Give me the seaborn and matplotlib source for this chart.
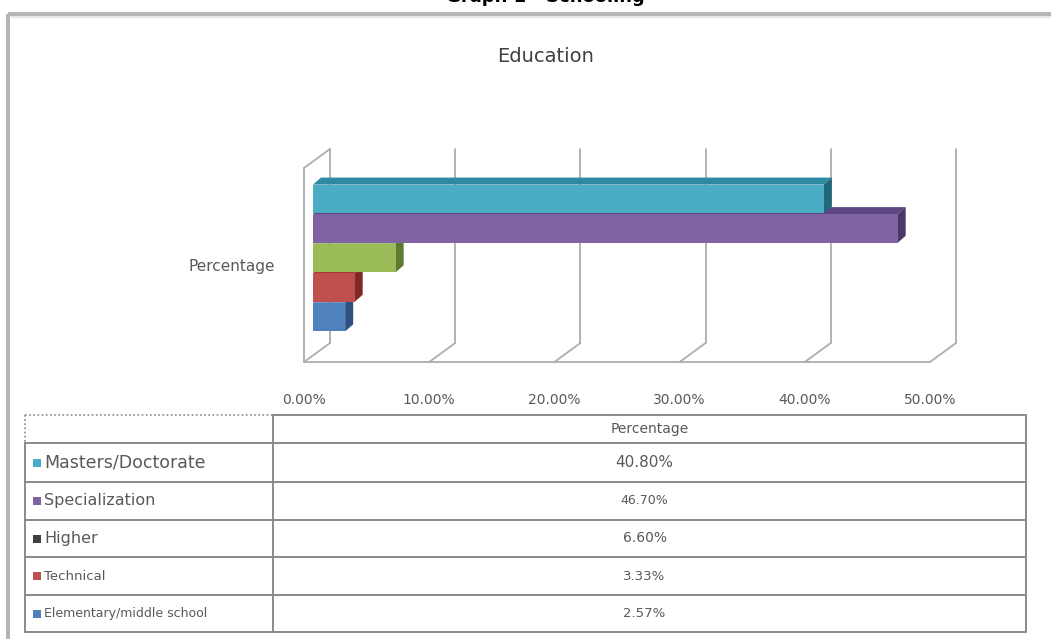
import numpy as np
import pandas as pd
import matplotlib
matplotlib.use("Agg")
import matplotlib.pyplot as plt
import matplotlib.transforms as mtransforms
import seaborn as sns
from matplotlib.patches import Polygon
from matplotlib.lines import Line2D

# ---------------- data ----------------
categories = ["Masters/Doctorate", "Specialization", "Higher", "Technical",
              "Elementary/middle school"]
values = [40.80, 46.70, 6.60, 3.33, 2.57]
value_labels = ["40.80%", "46.70%", "6.60%", "3.33%", "2.57%"]
x_ticks = [0, 10, 20, 30, 40, 50]
x_tick_labels = ["0.00%", "10.00%", "20.00%", "30.00%", "40.00%", "50.00%"]
series_name = "Percentage"
chart_title = "Education"
page_caption = "Graph 1 - Schooling"

# ---------------- styles ----------------
bar_colors = ["#4BACC6", "#8064A2", "#9BBB59", "#C0504D", "#4F81BD"]
top_colors = ["#2E8AA1", "#5E4785", "#7A9A3E", "#9E3A38", "#3A68A0"]
side_colors = ["#21677A", "#4A3766", "#5F7A2E", "#7E2A28", "#2C5080"]
legend_colors = ["#4BACC6", "#8064A2", "#404040", "#C0504D", "#4F81BD"]
label_sizes = [12.5, 11.5, 11.5, 9.5, 9]
value_sizes = [11, 9, 10, 9.5, 9.5]
grid_color = "#ADADAD"
text_color = "#595959"

W, H = 1051, 639
sns.set_theme(style="white")
plt.rcParams['font.family'] = ['DejaVu Sans']

fig = plt.figure(figsize=(W / 100, H / 100), dpi=100)
fig.patch.set_facecolor("white")

# full-figure pixel axes for frame and table
pax = fig.add_axes([0, 0, 1, 1])
pax.set_xlim(0, W)
pax.set_ylim(H, 0)
pax.axis("off")

# outer frame (top and left visible)
pax.plot([8, W], [14, 14], color="#B4B4B4", lw=2.8, solid_capstyle="butt")
pax.plot([8, 8], [14, H], color="#B4B4B4", lw=2.8, solid_capstyle="butt")
pax.plot([11, W], [17, 17], color="#E4E4E4", lw=1.2)

# caption cut off by the top edge of the scan
fig.text(545 / W, 1 - 2 / H, page_caption, ha="center", va="baseline",
         fontsize=13, fontweight="bold", color="black")

# title
fig.text(546 / W, 1 - 57 / H, chart_title, ha="center", va="center",
         fontsize=14, color="#404040")

# ---------------- chart axes (front plane) ----------------
left, right, top, bottom = 304, 930, 168, 362
ax = fig.add_axes([left / W, 1 - bottom / H, (right - left) / W, (bottom - top) / H])
df = pd.DataFrame({"category": categories, "value": values})
sns.barplot(data=df, x="value", y="category", hue="category", palette=bar_colors,
            orient="h", width=0.97, legend=False, saturation=1, linewidth=0, ax=ax)
ax.set_xlim(0, 50)
ax.set_ylim(5.30, -1.27)
for s in ax.spines.values():
    s.set_visible(False)
ax.patch.set_alpha(0)
ax.grid(False)
ax.set_xlabel("")
ax.set_ylabel("")
ax.set_xticks(x_ticks, x_tick_labels)
ax.set_yticks([2], [series_name])
ax.tick_params(axis="x", length=0, pad=22, labelsize=10, labelcolor=text_color)
ax.tick_params(axis="y", length=0, pad=21, labelsize=11, labelcolor=text_color)

# depth offsets in pixels
DX, DY = 26, 19          # back wall
SX, SY = 9, 6.6          # bar front shift
BX, BY = 8, 7            # bar depth

ident = mtransforms.IdentityTransform()
blend = mtransforms.blended_transform_factory(ax.transData, ax.transAxes)
back = mtransforms.offset_copy(blend, fig=fig, x=DX, y=DY, units="dots")

def disp_line(p0, p1, **kw):
    ax.add_line(Line2D([p0[0], p1[0]], [p0[1], p1[1]], transform=ident,
                       clip_on=False, **kw))

for t in x_ticks:
    ax.add_line(Line2D([t, t], [0, 1], transform=back, color=grid_color,
                       lw=1.3, clip_on=False, zorder=1))
    p0 = blend.transform((t, 0))
    disp_line(p0, (p0[0] + DX, p0[1] + DY), color=grid_color, lw=1.3, zorder=1)

ax.add_line(Line2D([0, 50], [0, 0], transform=blend, color=grid_color, lw=1.3,
                   clip_on=False, zorder=1))
ax.add_line(Line2D([0, 0], [0, 1], transform=blend, color=grid_color, lw=1.3,
                   clip_on=False, zorder=1))
p0 = blend.transform((0, 1))
disp_line(p0, (p0[0] + DX, p0[1] + DY), color=grid_color, lw=1.3, zorder=1)

# ---------------- 3D bar faces ----------------
front_tr = mtransforms.offset_copy(ax.transData, fig=fig, x=SX, y=SY, units="dots")
for i, p in enumerate(ax.patches):
    z = 20 - 3 * i
    x0, y0 = p.get_x(), p.get_y()
    w, h = p.get_width(), p.get_height()
    tl = ax.transData.transform((x0, y0)) + (SX, SY)
    tr = ax.transData.transform((x0 + w, y0)) + (SX, SY)
    br = ax.transData.transform((x0 + w, y0 + h)) + (SX, SY)
    top_face = Polygon([tl, tr, tr + (BX, BY), tl + (BX, BY)], closed=True,
                       transform=ident, facecolor=top_colors[i], edgecolor="none",
                       clip_on=False, zorder=z)
    side_face = Polygon([tr, br, br + (BX, BY), tr + (BX, BY)], closed=True,
                        transform=ident, facecolor=side_colors[i], edgecolor="none",
                        clip_on=False, zorder=z + 0.2)
    ax.add_patch(top_face)
    ax.add_patch(side_face)
    p.set_transform(front_tr)
    p.set_clip_on(False)
    p.set_zorder(z + 0.5)

# ---------------- data table ----------------
row_edges = [415, 443, 482, 520, 557, 595, 632]
col_edges = [25, 273, 1026]
lc = "#8A8A8A"
pax.plot([col_edges[0], col_edges[1]], [row_edges[0], row_edges[0]], color=lc,
         lw=1.2, ls=(0, (1, 1.5)))
pax.plot([col_edges[0], col_edges[0]], [row_edges[0], row_edges[1]], color=lc,
         lw=1.2, ls=(0, (1, 1.5)))
pax.plot([col_edges[1], col_edges[2]], [row_edges[0], row_edges[0]], color=lc, lw=1.4)
for y in row_edges[1:]:
    pax.plot([col_edges[0], col_edges[2]], [y, y], color=lc, lw=1.4)
pax.plot([col_edges[0], col_edges[0]], [row_edges[1], row_edges[-1]], color=lc, lw=1.4)
pax.plot([col_edges[1], col_edges[1]], [row_edges[0], row_edges[-1]], color=lc, lw=1.4)
pax.plot([col_edges[2], col_edges[2]], [row_edges[0], row_edges[-1]], color=lc, lw=1.4)

val_x = (col_edges[1] + col_edges[2]) / 2
pax.text(val_x, (row_edges[0] + row_edges[1]) / 2, series_name, ha="center",
         va="center", fontsize=10, color=text_color)

for i, (cat, lab) in enumerate(zip(categories, value_labels)):
    yc = (row_edges[i + 1] + row_edges[i + 2]) / 2
    pax.scatter([37], [yc], marker="s", s=30, color=legend_colors[i], linewidths=0)
    pax.text(44, yc, cat, ha="left", va="center", fontsize=label_sizes[i],
             color=text_color)
    pax.text(val_x - 5, yc, lab, ha="center", va="center", fontsize=value_sizes[i],
             color=text_color)

fig.savefig("out.png", dpi=100, facecolor="white")
